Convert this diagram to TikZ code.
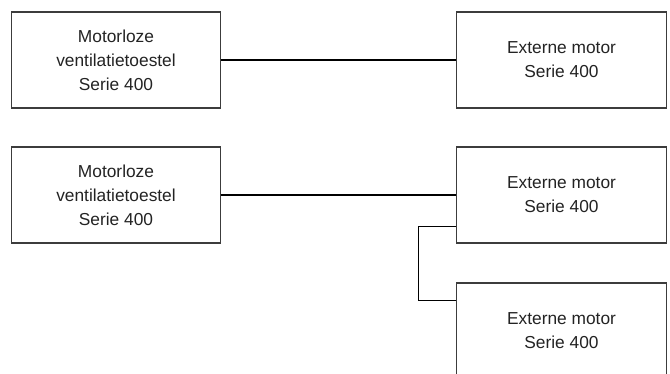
\documentclass[tikz,border=0pt]{standalone}
\usepackage{fontspec}
\setmainfont{Liberation Sans}
\usepackage{tikz}
\usepackage{xcolor}

\begin{document}
\begin{tikzpicture}[x=0.75pt,y=0.75pt,yscale=-1,xscale=1,
    unitbox/.style={draw={rgb, 255:red, 60; green, 60; blue, 60 },line width=0.8pt,minimum width=157pt,minimum height=72pt,inner sep=0pt,align=center,font=\fontsize{13}{18}\selectfont,text={rgb, 255:red, 35; green, 35; blue, 35 }},
    wire/.style={draw=black,line width=1.1pt}]
                    \useasboundingbox (0,0) rectangle (670,374);
                    \clip (0,0) rectangle (670,374);
                    %Shape: Rectangle [id:motorloze1] 
                    \node [unitbox] (mot1) at (116,60) {Motorloze\\ventilatietoestel\\Serie 400};
                    %Shape: Rectangle [id:extern1] 
                    \node [unitbox] (ext1) at (561.5,60) {Externe motor\\Serie 400};
                    %Shape: Rectangle [id:motorloze2] 
                    \node [unitbox] (mot2) at (116,195) {Motorloze\\ventilatietoestel\\Serie 400};
                    %Shape: Rectangle [id:extern2] 
                    \node [unitbox] (ext2) at (561.5,195) {Externe motor\\Serie 400};
                    %Shape: Rectangle [id:extern3] 
                    \node [unitbox] (ext3) at (561.5,331) {Externe motor\\Serie 400};

                    %Straight Lines [id:wire1] 
                    \draw [wire] (mot1.east) -- (ext1.west) ;
                    %Straight Lines [id:wire2] 
                    \draw [wire] (mot2.east) -- (ext2.west) ;
                    %Straight Lines [id:wire3] 
                    \draw [wire,line width=0.8pt] ([yshift=-12.75pt]ext2.south west) -- ++(-38,0) |- ([yshift=13.5pt]ext3.north west) ;
                \end{tikzpicture}
\end{document}
